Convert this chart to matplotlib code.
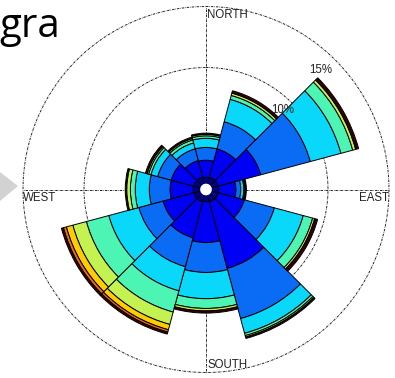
import numpy as np
import matplotlib
matplotlib.use("Agg")
import matplotlib.pyplot as plt
from matplotlib.patches import Polygon

# Sector centres (degrees, clockwise from north) and sector width
directions = [0, 30, 60, 90, 120, 150, 180, 210, 240, 270, 300, 330]
sector_width = 30

# Frequency (%) of each wind-speed class per direction, innermost class first
class_1 = [1.00, 1.05, 1.05, 1.05, 1.05, 1.05, 1.00, 1.05, 1.05, 1.05, 1.05, 1.05]
class_2 = [1.40, 2.40, 3.60, 1.40, 2.20, 5.65, 3.35, 3.05, 2.60, 1.90, 1.90, 1.40]
class_3 = [1.05, 2.30, 4.20, 0.40, 2.55, 4.25, 2.45, 2.45, 2.05, 1.70, 1.15, 1.00]
class_4 = [0.75, 1.90, 2.60, 0.25, 2.45, 1.25, 2.15, 2.05, 2.55, 1.15, 0.57, 0.50]
class_5 = [0.20, 0.33, 1.00, 0.08, 0.80, 0.20, 0.80, 1.80, 1.90, 0.40, 0.20, 0.25]
class_6 = [0.12, 0.20, 0.25, 0.05, 0.17, 0.12, 0.20, 1.05, 1.15, 0.30, 0.12, 0.12]
class_7 = [0.00, 0.00, 0.00, 0.00, 0.00, 0.00, 0.00, 0.45, 0.55, 0.00, 0.00, 0.00]
class_8 = [0.00, 0.00, 0.00, 0.00, 0.00, 0.00, 0.00, 0.20, 0.25, 0.00, 0.00, 0.00]
class_9 = [0.10, 0.20, 0.25, 0.08, 0.25, 0.12, 0.18, 0.17, 0.17, 0.12, 0.15, 0.12]

speed_classes = [class_1, class_2, class_3, class_4, class_5,
                 class_6, class_7, class_8, class_9]
class_colors = ["#00008f", "#0000f5", "#0a6cf5", "#0ad8fa", "#4df5b4",
                "#c4f250", "#ffcc00", "#f06a10", "#3a0000"]

ring_values = [10, 15]
ring_labels = ["10%", "15%"]
compass = ["NORTH", "EAST", "SOUTH", "WEST"]

W, H = 395, 378
fig = plt.figure(figsize=(W / 100, H / 100), dpi=100)
fig.patch.set_facecolor("white")

cx, cy, R = 206, 189.5, 183
ax = fig.add_axes([(cx - R) / W, (H - cy - R) / H, 2 * R / W, 2 * R / H],
                  projection="polar")
ax.set_theta_zero_location("N")
ax.set_theta_direction(-1)
ax.set_ylim(0, max(ring_values))
ax.set_axis_off()

grid_style = dict(color="#222222", lw=0.7, ls=(0, (2.5, 1.0, 0.6, 1.0)),
                  zorder=0, clip_on=False)
circ = np.linspace(0, 2 * np.pi, 721)
for rv in ring_values:
    ax.plot(circ, np.full_like(circ, rv), **grid_style)
for ang in [0, 90, 180, 270]:
    t = np.deg2rad(ang)
    ax.plot([t, t], [0, max(ring_values)], **grid_style)

# Stacked sectors
theta = np.deg2rad(directions)
width = np.deg2rad(sector_width)
bottom = np.zeros(len(directions))
for values, color in zip(speed_classes, class_colors):
    values = np.asarray(values)
    keep = values > 0
    ax.bar(theta[keep], values[keep], width=width, bottom=bottom[keep],
           color=color, edgecolor="black", linewidth=0.7, zorder=2)
    bottom += values

# Hole in the middle
ax.fill(circ, np.full_like(circ, 0.42), color="white", zorder=3)

# Ring value labels
for rv, lab in zip(ring_values, ring_labels):
    ax.text(np.deg2rad(44), rv * 0.905, lab, ha="center", va="center",
            fontsize=8.3, family="Liberation Sans", color="#222222", zorder=10)

# Compass labels
lab_kw = dict(fontsize=8.3, family="Liberation Sans", color="#222222")
fig.text(207 / W, 1 - 15 / H, compass[0], ha="left", va="center", **lab_kw)
fig.text(389 / W, 1 - 198 / H, compass[1], ha="right", va="center", **lab_kw)
fig.text(207 / W, 1 - 365 / H, compass[2], ha="left", va="center", **lab_kw)
fig.text(23 / W, 1 - 198 / H, compass[3], ha="left", va="center", **lab_kw)

# Slide title fragment and pointer arrow
fig.text(60 / W, 1 - 37 / H, "gra", ha="right", va="baseline",
         fontsize=29, family="Open Sans", color="black")
fig.patches.append(Polygon([(0, 1 - 172 / H), (18 / W, 1 - 186 / H), (0, 1 - 201 / H)],
                           closed=True, transform=fig.transFigure,
                           facecolor="#d2d2d2", edgecolor="none"))

fig.savefig("out.png", dpi=100, facecolor="white")
